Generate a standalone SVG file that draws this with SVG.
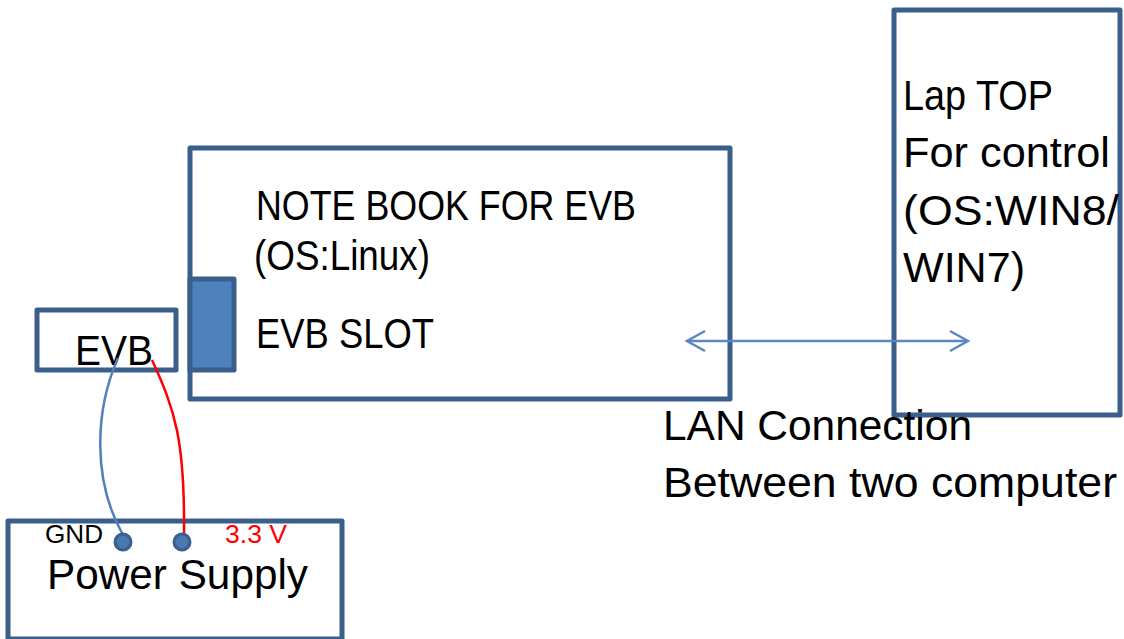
<svg xmlns="http://www.w3.org/2000/svg" width="1124" height="639" viewBox="0 0 1124 639">
<defs>
<style>
.box{fill:#fff;stroke:#3A5F8B;stroke-width:5;stroke-linejoin:round}
.t{font-family:"Liberation Sans",Arial,sans-serif;font-size:42px;fill:#000}
.s{font-family:"Liberation Sans",Arial,sans-serif;font-size:25px}
.wire{fill:none;stroke-width:2.5}
.dot{fill:#4A78B0;stroke:#3A5F8B;stroke-width:3}
.lan{fill:none;stroke:#5B87C2;stroke-width:2.5}
</style>
</defs>
<rect width="1124" height="639" fill="#fff"/>
<g id="notebook">
<rect class="box" x="190" y="148" width="540" height="251"/>
<text class="t" x="256" y="220" textLength="380" lengthAdjust="spacingAndGlyphs">NOTE BOOK FOR EVB</text>
<text class="t" x="254" y="270" textLength="176" lengthAdjust="spacingAndGlyphs">(OS:Linux)</text>
<text class="t" x="256" y="348" textLength="178" lengthAdjust="spacingAndGlyphs">EVB SLOT</text>
</g>
<g id="slot">
<rect x="190" y="279" width="44" height="91" fill="#4F81BD" stroke="#3A5F8B" stroke-width="5" stroke-linejoin="round"/>
</g>
<g id="laptop">
<rect class="box" x="894" y="10" width="226" height="405"/>
<text class="t" x="903" y="110" textLength="150" lengthAdjust="spacingAndGlyphs">Lap TOP</text>
<text class="t" x="903" y="167" textLength="207" lengthAdjust="spacingAndGlyphs">For control</text>
<text class="t" x="903" y="225" textLength="216" lengthAdjust="spacingAndGlyphs">(OS:WIN8/</text>
<text class="t" x="903" y="282" textLength="122" lengthAdjust="spacingAndGlyphs">WIN7)</text>
</g>
<g id="evb">
<rect class="box" x="37" y="310" width="139" height="60"/>
<text class="t" x="75" y="365" textLength="78" lengthAdjust="spacingAndGlyphs">EVB</text>
</g>
<g id="power">
<rect class="box" x="8" y="521" width="334" height="118"/>
<text class="t" x="47" y="589" textLength="261" lengthAdjust="spacingAndGlyphs">Power Supply</text>
<text class="s" x="45" y="543" fill="#000" textLength="58" lengthAdjust="spacingAndGlyphs">GND</text>
<text class="s" x="225" y="543" fill="#FF0000" textLength="62" lengthAdjust="spacingAndGlyphs">3.3 V</text>
</g>
<g id="connectors">
<path class="wire" stroke="#4F81BD" d="M118 358 C 95 410, 92 480, 123 535"/>
<path class="wire" stroke="#FF0000" d="M152 360 C 175 410, 185 440, 184 535"/>
<circle class="dot" cx="123" cy="542" r="8"/>
<circle class="dot" cx="182" cy="542" r="8"/>
<line class="lan" x1="687" y1="341" x2="967" y2="341"/>
<polyline class="lan" points="705,331 687,341 705,351"/>
<polyline class="lan" points="950,331 968,341 950,351"/>
</g>
<g id="lan-label">
<text class="t" x="663" y="440" textLength="309" lengthAdjust="spacingAndGlyphs">LAN Connection</text>
<text class="t" x="663" y="497" textLength="454" lengthAdjust="spacingAndGlyphs">Between two computer</text>
</g>
</svg>
